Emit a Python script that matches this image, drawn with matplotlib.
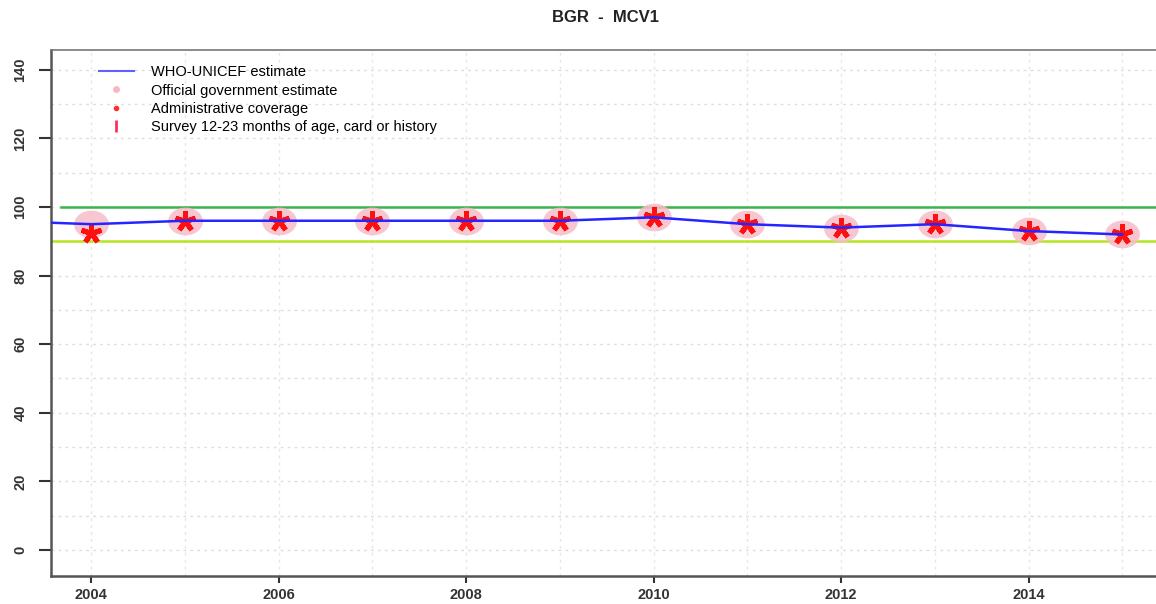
import numpy as np
import matplotlib.pyplot as plt
from matplotlib.path import Path
from matplotlib.lines import Line2D

# data
years = [2003, 2004, 2005, 2006, 2007, 2008, 2009, 2010, 2011, 2012, 2013, 2014, 2015]
wuenic = [96, 95, 96, 96, 96, 96, 96, 97, 95, 94, 95, 93, 92]
point_years = [2004, 2005, 2006, 2007, 2008, 2009, 2010, 2011, 2012, 2013, 2014, 2015]
official = [95, 96, 96, 96, 96, 96, 97, 95, 94, 95, 93, 92]
admin = [92.5, 96, 96, 96, 96, 96, 97, 95, 94, 95, 93, 92]
target_hi = 100
target_lo = 90
ytick_vals = [0, 20, 40, 60, 80, 100, 120, 140]
xtick_vals = [2004, 2006, 2008, 2010, 2012, 2014]

plt.rcParams['font.family'] = ['Liberation Sans', 'DejaVu Sans']

fig = plt.figure(figsize=(11.56, 6.04), dpi=100)
ax = fig.add_axes([0.0441, 0.0464, 0.9559, 0.8708])

# elliptical marker for the official estimates (reference image is stretched)
t = np.linspace(0, 2 * np.pi, 60)
ellipse = Path(np.column_stack([np.cos(t), 0.8 * np.sin(t)]), closed=True)

# grid
for yv in range(0, 150, 10):
    ax.axhline(yv, color='#dedede', lw=1, ls=(0, (2, 3)), zorder=0)
for xv in range(2004, 2016):
    ax.axvline(xv, color='#e6e6e6', lw=1, ls=(0, (2, 3)), zorder=0)

ax.axhline(target_hi, xmin=0.009, color='#3cb44b', lw=1.8, zorder=1)
ax.axhline(target_lo, color='#b5e61d', lw=1.8, zorder=1)

ax.plot(point_years, official, ls='none', marker=ellipse, ms=25,
        color='#f7bcc8', alpha=0.85, mec='none', zorder=2)
ax.plot(point_years, admin, ls='none', marker=(5, 2, 0), ms=15, mew=3.6,
        color='#ff1010', zorder=3)
ax.plot(years, wuenic, color='#2525ff', lw=1.8, zorder=4)

ax.set_xlim(2003.57, 2015.36)
ax.set_ylim(-7.6, 145.8)
ax.set_xticks(xtick_vals)
ax.set_yticks(ytick_vals)
ax.set_yticklabels([str(v) for v in ytick_vals], rotation=90, va='center')
ax.tick_params(axis='y', length=9, width=1.5, pad=8, labelsize=10.5, colors='#333333')
ax.tick_params(axis='x', length=5, width=1.5, pad=4, labelsize=10.5, colors='#333333')
for lab in ax.get_xticklabels() + ax.get_yticklabels():
    lab.set_fontweight('bold')

for side in ['left', 'bottom', 'top']:
    ax.spines[side].set_color('#555555')
    ax.spines[side].set_linewidth(1.8)
ax.spines['top'].set_color('#777777')
ax.spines['top'].set_linewidth(1.2)
ax.spines['right'].set_visible(False)

handles = [
    Line2D([], [], color='#6060ff', lw=1.5),
    Line2D([], [], ls='none', marker='o', ms=4, color='#f7b8c4'),
    Line2D([], [], ls='none', marker='o', ms=3, color='#ff3030'),
    Line2D([], [], ls='none', marker='|', ms=9, mew=2, color='#ff3060'),
]
labels = ['WHO-UNICEF estimate', 'Official government estimate',
          'Administrative coverage', 'Survey 12-23 months of age, card or history']
ax.legend(handles, labels, loc='upper left', bbox_to_anchor=(0.034, 0.99),
          frameon=False, fontsize=10.5, labelspacing=0.28, handlelength=2.4,
          handletextpad=1.2, borderpad=0.2)

fig.text(605 / 1156, 1 - 17 / 604, 'BGR  -  MCV1', ha='center', va='center',
         fontsize=12, fontweight='bold', color='#222222')

fig.savefig('out.png', dpi=100)
